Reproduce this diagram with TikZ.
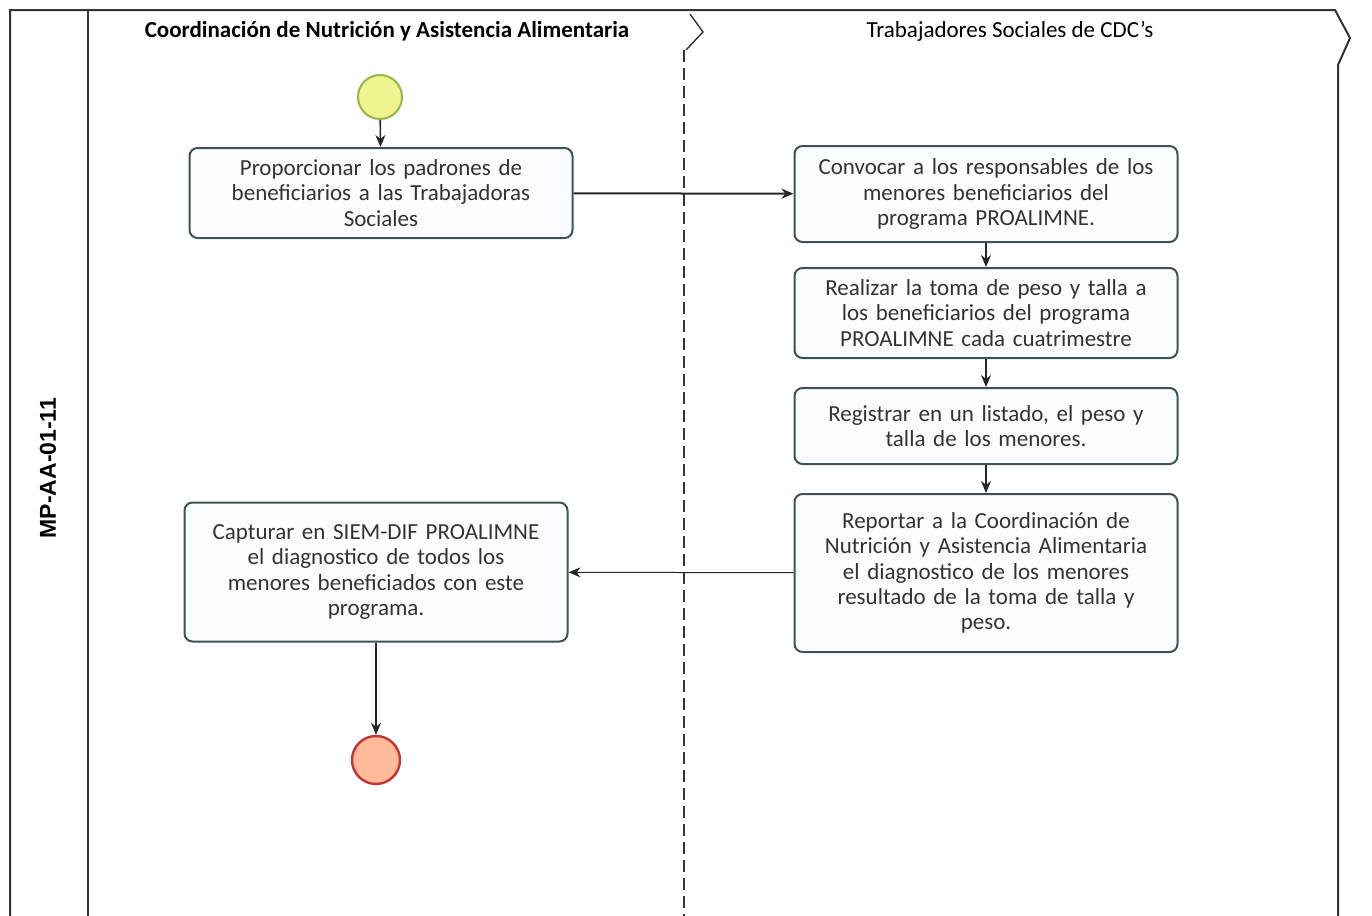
\documentclass[tikz,border=0pt]{standalone}
\usepackage{fontspec}
\setmainfont{Carlito}
\newfontfamily\lanefont{Liberation Sans}
\usetikzlibrary{arrows.meta}
\definecolor{taskline}{RGB}{62,82,88}

\begin{document}
\begin{tikzpicture}[x=0.5pt,y=-0.5pt,
    activity/.style ={draw=taskline, line width=1pt, rounded corners=4pt,
      fill=cyan!2, text width=172pt, align=center, minimum width=191.5pt,
      font=\fontsize{11.5}{12.6}\selectfont, text=black!80},
    startevent/.style ={circle, draw=olive!60!green!70, line width=1pt,
      fill=yellow!45!lime!45!white, minimum size=22pt, inner sep=0pt},
    endevent/.style ={circle, draw=red!70!black!80, line width=1.2pt,
      fill=red!35!orange!40!white, minimum size=24pt, inner sep=0pt},
    flow/.style ={-{Stealth[length=6pt,width=5pt]}, line width=0.8pt, black!85}]
   \useasboundingbox (0,0) rectangle (1372,916);
   % pool and lanes
   \draw[line width=1pt, black!80] (10,916) -- (10,10) -- (1335,10) -- (1350,38) -- (1338,65) -- (1338,916);
   \draw[line width=0.8pt, black!80] (88,10) -- (88,916);
   \draw[line width=0.7pt, black!80] (690,14) -- (703,32) -- (686,50);
   \draw[line width=0.8pt, black!80, dashed, dash pattern=on 6pt off 3pt] (684,50) -- (684,916);
   \node[font=\fontsize{11.5}{13}\selectfont\bfseries] (lane1) at (387,31) {Coordinación de Nutrición y Asistencia Alimentaria};
   \node[font=\fontsize{11.5}{13}\selectfont] (lane2) at (1010,31) {Trabajadores Sociales de CDC's};
   \node[rotate=90, font=\lanefont\fontsize{11.5}{13}\selectfont\bfseries] (pool) at (48,468) {MP-AA-01-11};
   % flow nodes
   \node[startevent] (S) at (380,97) {};
   \node[activity, minimum height=45pt] (A) at (381,193) {Proporcionar los padrones de\\ beneficiarios a las Trabajadoras\\ Sociales};
   \node[activity, minimum height=48pt] (B) at (986,194) {Convocar a los responsables de los\\ menores beneficiarios del\\ programa PROALIMNE.};
   \node[activity, minimum height=45pt] (C) at (986,313) {Realizar la toma de peso y talla a\\ los beneficiarios del programa\\ PROALIMNE cada cuatrimestre};
   \node[activity, minimum height=38pt] (D) at (986,426) {Registrar en un listado, el peso y\\ talla de los menores.};
   \node[activity, minimum height=79pt] (E) at (986,573) {Reportar a la Coordinación de\\ Nutrición y Asistencia Alimentaria\\ el diagnostico de los menores\\ resultado de la toma de talla y\\ peso.};
   \node[activity, minimum height=69.5pt] (F) at (376,572) {Capturar en SIEM-DIF PROALIMNE\\ el diagnostico de todos los\\ menores beneficiados con este\\ programa.};
   \node[endevent] (T) at (376,760) {};
   % sequence flows
   \draw[flow] (S) to (A);
   \draw[flow, line width=1pt] (A) to (B);
   \draw[flow] (B) to (C);
   \draw[flow] (C) to (D);
   \draw[flow] (D) to (E);
   \draw[flow, line width=0.5pt] (E) to (F);
   \draw[flow] (F) to (T);
\end{tikzpicture}
\end{document}
